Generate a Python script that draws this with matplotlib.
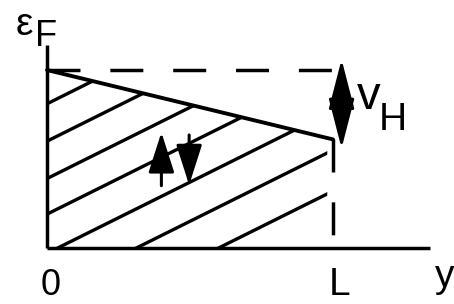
import numpy as np
import matplotlib
matplotlib.use('Agg')
import matplotlib.pyplot as plt
from matplotlib.patches import Polygon, FancyArrowPatch

plt.rcParams['font.family'] = ['Liberation Sans', 'DejaVu Sans']

# schematic values (units: L = 1, eF = 1)
L = 1.0
eF = 1.0
eF_L = 0.61          # local Fermi level at y = L
y_axis_top = 1.14
x_axis_end = 1.34
hatch_slope = 0.80
hatch_offsets = [0.81, 0.60, 0.39, 0.19, -0.03, -0.25, -0.48]
up_arrow = (0.40, 0.35, 0.65)     # x, y_from, y_to
down_arrow = (0.497, 0.635, 0.354)
vH_arrow = (1.03, 0.56, 1.06)

fig = plt.figure(figsize=(4.54, 3.04), dpi=100)
ax = fig.add_axes([0, 0, 1, 1])
ax.set_xlim(-0.1643, 1.4231)
ax.set_ylim(-0.3146, 1.3933)
ax.axis('off')

lw = 2.5
dash = (0, (9.5, 8.6))

# axes
ax.plot([0, 0], [0, y_axis_top], 'k-', lw=lw, solid_capstyle='butt')
ax.plot([0, x_axis_end], [0, 0], 'k-', lw=lw, solid_capstyle='butt')

# Fermi level, sloped chemical potential, dashed guides
ax.plot([0, L], [eF, eF], color='k', lw=lw, linestyle=dash)
ax.plot([0, L], [eF, eF_L], 'k-', lw=2.8, solid_capstyle='round')
ax.plot([L, L], [eF_L, 0], color='k', lw=lw, linestyle=dash)

# hatching of the filled states
region = Polygon([(0, 0), (0, eF), (L - 0.02, eF_L + 0.01), (L - 0.02, 0)],
                 closed=True, transform=ax.transData, fill=False, lw=0)
ax.add_patch(region)
xs = np.array([0, L])
for b in hatch_offsets:
    ln, = ax.plot(xs, b + hatch_slope * xs, 'k-', lw=2.4)
    ln.set_clip_path(region)

# arrows
def arrow(x, y0, y1, style, hl, hw):
    ax.add_patch(FancyArrowPatch((x, y0), (x, y1),
                                 arrowstyle='%s,head_length=%g,head_width=%g' % (style, hl, hw),
                                 mutation_scale=10, color='k', lw=2.2,
                                 shrinkA=0, shrinkB=0))

arrow(up_arrow[0], up_arrow[1], up_arrow[2], '-|>', 2.5, 0.8)
arrow(down_arrow[0], down_arrow[1], down_arrow[2], '-|>', 2.5, 0.8)
arrow(vH_arrow[0], vH_arrow[1], vH_arrow[2], '<|-|>', 3.1, 0.8)

# labels
ax.text(0.014, -0.309, '0', fontsize=26, ha='center', va='bottom')
ax.text(1.024, -0.309, 'L', fontsize=28, ha='center', va='bottom')
ax.text(1.39, -0.22, 'y', fontsize=28, ha='center', va='baseline')
ax.text(-0.080, 1.255, 'ε', fontsize=28, ha='center', va='center')
ax.text(-0.002, 1.19, 'F', fontsize=26, ha='center', va='center')
ax.text(1.123, 0.85, 'v', fontsize=34, ha='center', va='center')
ax.text(1.210, 0.72, 'H', fontsize=28, ha='center', va='center')

plt.savefig('out.png', dpi=100)
